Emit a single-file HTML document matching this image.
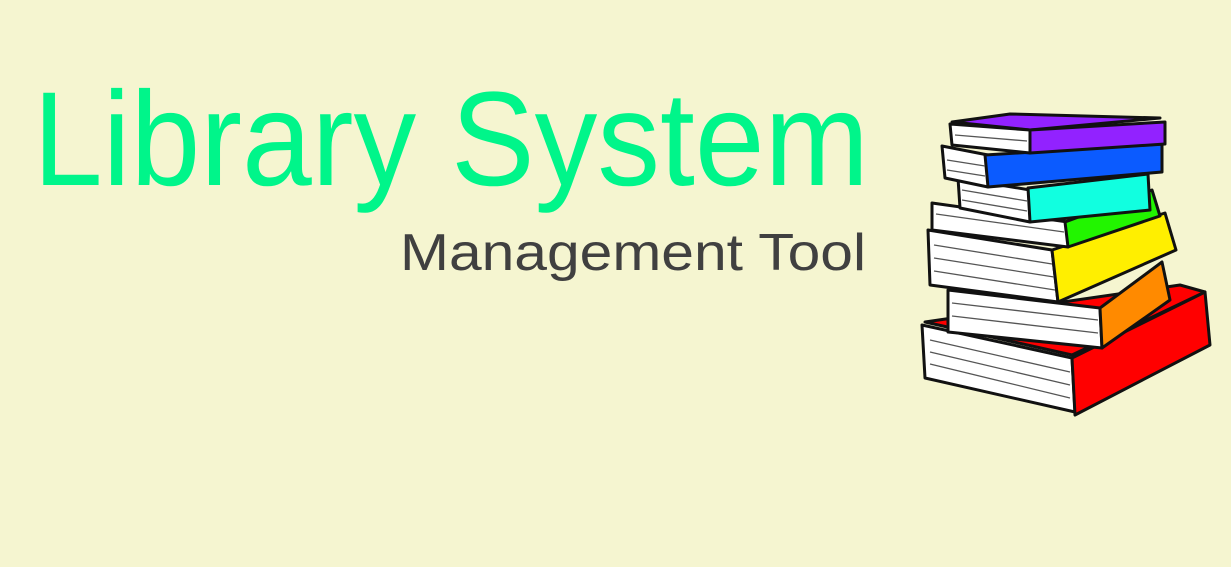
<!DOCTYPE html>
<html><head><meta charset="utf-8"><style>
html,body{margin:0;padding:0;background:#f5f5d0;}
svg{display:block}
</style></head><body>
<svg width="1231" height="567" viewBox="0 0 1231 567" xmlns="http://www.w3.org/2000/svg">
<rect width="1231" height="567" fill="#f5f5d0"/>
<text x="33" y="185" font-family="Liberation Sans, sans-serif" font-size="134" fill="#00f58a" textLength="836" lengthAdjust="spacingAndGlyphs">Library System</text>
<text x="400" y="270" font-family="Liberation Sans, sans-serif" font-size="52" fill="#404040" textLength="466" lengthAdjust="spacingAndGlyphs">Management Tool</text>
<g stroke="#111" stroke-width="3" stroke-linejoin="round">
<!-- red -->
<polygon points="925,322 1180,285 1205,292 1072,355" fill="#f00"/>
<polygon points="922,325 1072,358 1075,412 925,378" fill="#fff"/>
<polygon points="1072,358 1205,292 1210,345 1075,415" fill="#f00"/>
<!-- orange -->
<polygon points="948,290 1100,308 1102,348 948,332" fill="#fff"/>
<polygon points="1100,308 1162,262 1170,300 1102,348" fill="#ff8a00"/>
<!-- yellow -->
<polygon points="928,230 1052,250 1058,302 930,285" fill="#fff"/>
<polygon points="1052,250 1165,213 1176,250 1058,302" fill="#ffef00"/>
<!-- green -->
<polygon points="932,203 1068,222 1068,247 932,230" fill="#fff"/>
<polygon points="1065,222 1152,190 1160,216 1068,247" fill="#22f500"/>
<!-- cyan -->
<polygon points="958,178 1030,190 1030,222 960,208" fill="#fff"/>
<polygon points="1028,188 1148,174 1150,210 1030,222" fill="#11ffe0"/>
<!-- blue -->
<polygon points="942,146 988,155 988,187 945,178" fill="#fff"/>
<polygon points="985,155 1162,144 1162,172 988,187" fill="#0b5bff"/>
<!-- purple -->
<polygon points="952,122 1010,114 1160,118 1030,130" fill="#9222ff"/>
<polygon points="950,124 1030,130 1030,153 952,145" fill="#fff"/>
<polygon points="1030,130 1165,122 1165,144 1030,153" fill="#9222ff"/>
</g>
<g stroke="#555" stroke-width="1.3">
<line x1="930" y1="340" x2="1070" y2="372"/><line x1="930" y1="352" x2="1070" y2="385"/><line x1="930" y1="364" x2="1070" y2="398"/>
<line x1="952" y1="303" x2="1098" y2="320"/><line x1="952" y1="316" x2="1098" y2="333"/>
<line x1="934" y1="245" x2="1052" y2="264"/><line x1="934" y1="258" x2="1054" y2="277"/><line x1="934" y1="271" x2="1055" y2="290"/>
<line x1="936" y1="214" x2="1064" y2="232"/>
<line x1="962" y1="190" x2="1027" y2="201"/><line x1="962" y1="200" x2="1027" y2="211"/>
<line x1="947" y1="160" x2="985" y2="166"/><line x1="947" y1="170" x2="985" y2="176"/>
<line x1="955" y1="135" x2="1027" y2="141"/>
</g>
</svg>
</body></html>
